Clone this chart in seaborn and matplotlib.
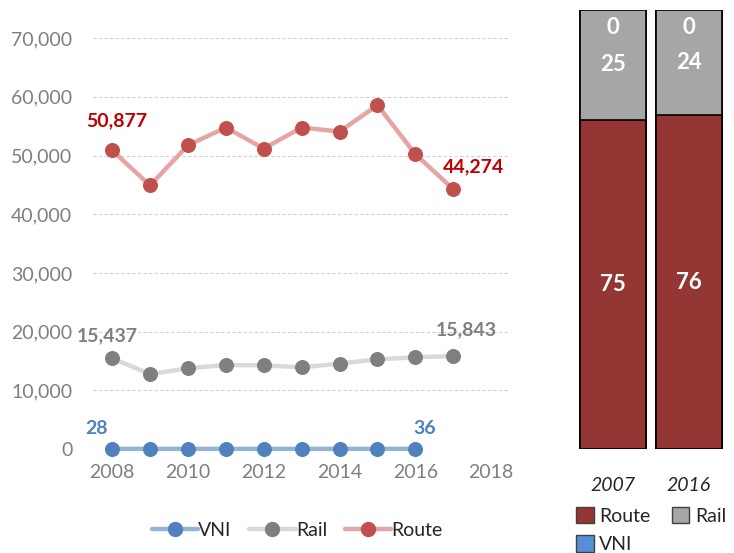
import numpy as np
import pandas as pd
import matplotlib
matplotlib.use("Agg")
import matplotlib.pyplot as plt
import seaborn as sns
from matplotlib.lines import Line2D
from matplotlib.patches import Patch

# data
years = [2008, 2009, 2010, 2011, 2012, 2013, 2014, 2015, 2016, 2017]
route = [50877, 44900, 51760, 54770, 51190, 54770, 54090, 58580, 50230, 44274]
rail = [15437, 12780, 13750, 14320, 14260, 13920, 14550, 15280, 15630, 15843]
vni_years = [2008, 2009, 2010, 2011, 2012, 2013, 2014, 2015, 2016]
vni = [28, 30, 31, 30, 32, 33, 34, 35, 36]

share_years = ["2007", "2016"]
share_route = [75, 76]
share_rail = [25, 24]
share_vni = [0, 0]

sns.set_style("white")
plt.rcParams["font.family"] = ["Lato", "DejaVu Sans"]

fig = plt.figure(figsize=(7.34, 5.53), dpi=100)

# left panel: lines
ax = fig.add_axes([0.127, 0.188, 0.568, 0.743])
series = [
    (vni_years, vni, "#95B3D7", "#4F81BD", "VNI"),
    (years, rail, "#D9D9D9", "#7F7F7F", "Rail"),
    (years, route, "#E6A5A5", "#C0504D", "Route"),
]
for xs, ys, lc, mc, name in series:
    sns.lineplot(x=xs, y=ys, ax=ax, color=lc, linewidth=3.2, marker="o",
                 markersize=10, markerfacecolor=mc, markeredgecolor=mc,
                 clip_on=False, zorder=3)

ax.set_xlim(2007.5, 2018.5)
ax.set_ylim(0, 70000)
ax.set_xticks([2008, 2010, 2012, 2014, 2016, 2018])
ax.set_yticks(range(0, 70001, 10000))
ax.set_yticklabels([f"{v:,}" for v in range(0, 70001, 10000)])
ax.tick_params(axis="y", length=0, pad=15, labelsize=14, labelcolor="#7F7F7F")
ax.tick_params(axis="x", length=0, pad=11, labelsize=14, labelcolor="#7F7F7F")
ax.grid(axis="y", color="#D0D0D0", linestyle=(0, (3, 2)), linewidth=0.8)
ax.set_axisbelow(True)
for s in ax.spines.values():
    s.set_visible(False)

lab = dict(fontsize=14, fontweight="bold", ha="center", va="center")
ax.text(years[0] + 0.12, route[0] + 5000, f"{route[0]:,}", color="#C00000", **lab)
ax.text(years[-1] + 0.52, route[-1] + 3900, f"{route[-1]:,}", color="#C00000", **lab)
ax.text(years[0] - 0.12, rail[0] + 3800, f"{rail[0]:,}", color="#7F7F7F", **lab)
ax.text(years[-1] + 0.35, rail[-1] + 4500, f"{rail[-1]:,}", color="#7F7F7F", **lab)
ax.text(vni_years[0] - 0.42, 3500, f"{vni[0]}", color="#4F81BD", **lab)
ax.text(vni_years[-1] + 0.25, 3500, f"{vni[-1]}", color="#4F81BD", **lab)

handles = [Line2D([], [], color=lc, linewidth=3.2, marker="o", markersize=10,
                  markerfacecolor=mc, markeredgecolor=mc, label=name)
           for _, _, lc, mc, name in series]
fig.legend(handles=handles, loc="center", bbox_to_anchor=(297 / 734, 1 - 530 / 553),
           ncol=3, frameon=False, fontsize=14, handlelength=2.4,
           handletextpad=0.0, columnspacing=0.9)

# right panel: stacked shares
ax2 = fig.add_axes([0.783, 0.188, 0.207, 0.794])
df = pd.DataFrame({"year": share_years, "route": share_route,
                   "rail": share_rail, "vni": share_vni})
df["top_rail"] = df["route"] + df["rail"]
df["top_vni"] = df["top_rail"] + df["vni"]
sns.barplot(data=df, x="year", y="top_vni", color="#558ED5", width=0.87,
            edgecolor="black", linewidth=1.2, saturation=1, ax=ax2)
sns.barplot(data=df, x="year", y="top_rail", color="#A6A6A6", width=0.87,
            edgecolor="black", linewidth=1.2, saturation=1, ax=ax2)
sns.barplot(data=df, x="year", y="route", color="#943634", width=0.87,
            edgecolor="black", linewidth=1.2, saturation=1, ax=ax2)
ax2.set_xlim(-0.5, 1.5)
ax2.set_ylim(0, 100)
ax2.set_yticks([])
ax2.set_xlabel("")
ax2.set_ylabel("")
ax2.tick_params(axis="x", length=0, pad=20, labelsize=14)
for t in ax2.get_xticklabels():
    t.set_fontstyle("italic")
for s in ax2.spines.values():
    s.set_visible(False)

wl = dict(fontsize=16, fontweight="bold", color="white", ha="center", va="center")
for i, r in df.iterrows():
    ax2.text(i, r["route"] / 2, f"{r['route']}", **wl)
    ax2.text(i, r["route"] + r["rail"] / 2, f"{r['rail']}", **wl)
    ax2.text(i, r["top_vni"] - 4, f"{r['vni']}", **wl)

h2 = [Patch(facecolor="#943634", edgecolor="#404040", label="Route"),
      Patch(facecolor="#558ED5", edgecolor="#404040", label="VNI"),
      Patch(facecolor="#A6A6A6", edgecolor="#404040", label="Rail")]
fig.legend(handles=h2, loc="upper left", bbox_to_anchor=(576 / 734, 1 - 507 / 553),
           ncol=2, frameon=False, fontsize=14, handlelength=0.9, handleheight=0.9,
           handletextpad=0.3, columnspacing=1.1, labelspacing=0.55,
           borderpad=0, borderaxespad=0)

fig.savefig("out.png", dpi=100)
